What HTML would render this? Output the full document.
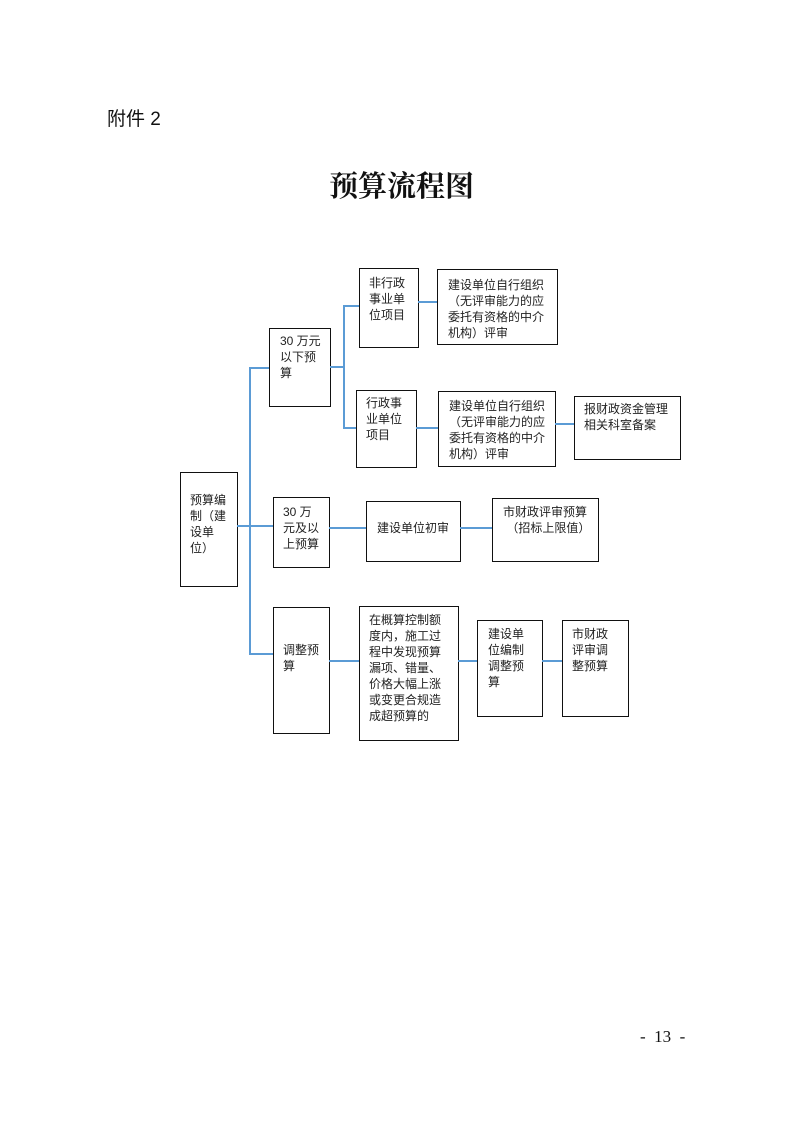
<!DOCTYPE html>
<html><head><meta charset="utf-8"><style>
body{margin:0;width:793px;height:1122px;background:#fff;position:relative;overflow:hidden;font-family:"Liberation Sans","Noto Sans CJK SC",sans-serif;}
.b{position:absolute;border:1.5px solid #111;box-sizing:border-box;}
.t{position:absolute;font-size:12px;line-height:16px;color:#222;white-space:nowrap;}
.h{position:absolute;height:2px;background:#5b9bd5;}
.v{position:absolute;width:2px;background:#5b9bd5;}
</style></head><body>
<div style="position:absolute;left:107px;top:104px;font-size:19px;color:#111;">附件 2</div>
<div style="position:absolute;left:329px;top:164px;font-size:29px;font-weight:bold;font-family:'Liberation Serif','Noto Serif CJK SC',serif;color:#111;">预算流程图</div>
<div style="position:absolute;left:640px;top:1027px;font-size:17px;font-family:'Liberation Serif','Noto Serif CJK SC',serif;color:#111;">-&nbsp; 13&nbsp; -</div>

<!-- boxes -->
<div class="b" style="left:180px;top:472px;width:58px;height:115px"></div>
<div class="b" style="left:269px;top:328px;width:62px;height:79px"></div>
<div class="b" style="left:359px;top:268px;width:60px;height:80px"></div>
<div class="b" style="left:437px;top:269px;width:121px;height:76px"></div>
<div class="b" style="left:356px;top:390px;width:61px;height:78px"></div>
<div class="b" style="left:438px;top:391px;width:118px;height:76px"></div>
<div class="b" style="left:574px;top:396px;width:107px;height:64px"></div>
<div class="b" style="left:273px;top:497px;width:57px;height:71px"></div>
<div class="b" style="left:366px;top:501px;width:95px;height:61px"></div>
<div class="b" style="left:492px;top:498px;width:107px;height:64px"></div>
<div class="b" style="left:273px;top:607px;width:57px;height:127px"></div>
<div class="b" style="left:359px;top:606px;width:100px;height:135px"></div>
<div class="b" style="left:477px;top:620px;width:66px;height:97px"></div>
<div class="b" style="left:562px;top:620px;width:67px;height:97px"></div>

<!-- text -->
<div class="t" style="left:190px;top:492px">预算编<br>制（建<br>设单<br>位）</div>
<div class="t" style="left:280px;top:333px">30 万元<br>以下预<br>算</div>
<div class="t" style="left:369px;top:275px">非行政<br>事业单<br>位项目</div>
<div class="t" style="left:448px;top:277px">建设单位自行组织<br>（无评审能力的应<br>委托有资格的中介<br>机构）评审</div>
<div class="t" style="left:366px;top:395px">行政事<br>业单位<br>项目</div>
<div class="t" style="left:449px;top:398px">建设单位自行组织<br>（无评审能力的应<br>委托有资格的中介<br>机构）评审</div>
<div class="t" style="left:584px;top:401px">报财政资金管理<br>相关科室备案</div>
<div class="t" style="left:283px;top:504px">30 万<br>元及以<br>上预算</div>
<div class="t" style="left:377px;top:520px">建设单位初审</div>
<div class="t" style="left:503px;top:504px">市财政评审预算<br>&nbsp;（招标上限值）</div>
<div class="t" style="left:283px;top:642px">调整预<br>算</div>
<div class="t" style="left:369px;top:612px">在概算控制额<br>度内，施工过<br>程中发现预算<br>漏项、错量、<br>价格大幅上涨<br>或变更合规造<br>成超预算的</div>
<div class="t" style="left:488px;top:626px">建设单<br>位编制<br>调整预<br>算</div>
<div class="t" style="left:572px;top:626px">市财政<br>评审调<br>整预算</div>

<!-- connectors -->
<div class="v" style="left:249px;top:367px;height:288px"></div>
<div class="h" style="left:237px;top:525px;width:13px"></div>
<div class="h" style="left:250px;top:367px;width:19px"></div>
<div class="h" style="left:250px;top:525px;width:23px"></div>
<div class="h" style="left:250px;top:653px;width:23px"></div>
<div class="h" style="left:330px;top:366px;width:14px"></div>
<div class="v" style="left:343px;top:305px;height:124px"></div>
<div class="h" style="left:344px;top:305px;width:15px"></div>
<div class="h" style="left:344px;top:427px;width:12px"></div>
<div class="h" style="left:418px;top:301px;width:19px"></div>
<div class="h" style="left:416px;top:427px;width:22px"></div>
<div class="h" style="left:555px;top:423px;width:19px"></div>
<div class="h" style="left:329px;top:527px;width:37px"></div>
<div class="h" style="left:460px;top:527px;width:32px"></div>
<div class="h" style="left:329px;top:660px;width:30px"></div>
<div class="h" style="left:458px;top:660px;width:19px"></div>
<div class="h" style="left:542px;top:660px;width:20px"></div>
</body></html>
